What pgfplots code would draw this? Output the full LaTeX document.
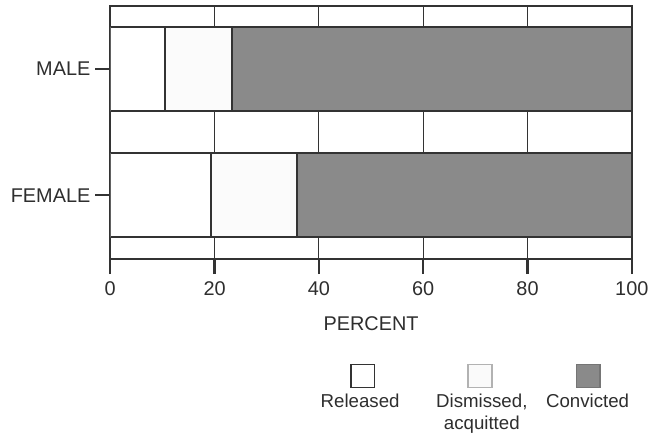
\documentclass[border=0pt]{standalone}
\usepackage{pgfplots}
\pgfplotsset{compat=1.18}
\usepackage{fontspec}
\setmainfont{Liberation Sans}
\definecolor{conv}{HTML}{8A8A8A}
\definecolor{edge}{HTML}{333333}
\definecolor{txt}{HTML}{2E2E2E}
\begin{document}
\fontsize{10}{12}\selectfont
\begin{tikzpicture}
\begin{axis}[name=ax, scale only axis, width=262.5pt, height=127.5pt,
  xbar stacked, bar width=42.5pt,
  xmin=0, xmax=100, ymin=-0.508, ymax=1.5,
  ytick={0,1}, yticklabels={FEMALE,MALE},
  xtick={0,20,40,60,80,100},
  tick align=outside, major tick length=7.5pt,
  xtick pos=bottom, ytick pos=left,
  xmajorgrids, grid style={edge, line width=0.5pt},
  axis line style={edge, line width=1.2pt},
  tick style={edge, line width=1.2pt},
  ticklabel style={font=\fontsize{10}{12}\selectfont, text=txt},
  yticklabel style={xshift=1pt},
  /pgf/number format/assume math mode=true,
  xlabel={PERCENT},
  xlabel style={at={(axis description cs:0.5,0)}, anchor=base, yshift=-36pt, text=txt, font=\fontsize{10}{12}\selectfont},
]
\addplot[fill=white, draw=edge, line width=1pt] coordinates {(10.5,1) (19.4,0)};
\addplot[fill=white!98.5!black, draw=edge, line width=1pt] coordinates {(12.9,1) (16.4,0)};
\addplot[fill=conv, draw=edge, line width=1pt] coordinates {(76.6,1) (64.2,0)};
\end{axis}
\begin{scope}[shift={(ax.south west)}]
\draw[edge, line width=0.9pt, fill=white] (121pt,-53pt) rectangle (133pt,-64.5pt);
\draw[black!30, line width=0.9pt, fill=white!98!black] (180pt,-53pt) rectangle (192pt,-64.5pt);
\draw[conv!85!black, line width=0.6pt, fill=conv] (234.5pt,-53pt) rectangle (246.5pt,-64.5pt);
\node[anchor=base, inner sep=0pt, text=txt, font=\fontsize{9.4}{11}\selectfont] at (125.75pt,-74.5pt) {Released};
\node[anchor=base, inner sep=0pt, text=txt, font=\fontsize{9.4}{11}\selectfont] at (187pt,-74.5pt) {Dismissed,};
\node[anchor=base, inner sep=0pt, text=txt, font=\fontsize{9.4}{11}\selectfont] at (187pt,-85.5pt) {acquitted};
\node[anchor=base, inner sep=0pt, text=txt, font=\fontsize{9.4}{11}\selectfont] at (240.25pt,-74.5pt) {Convicted};
\path (-55.5pt,-87.5pt) rectangle ++(327.5pt,218pt);
\end{scope}
\end{tikzpicture}
\end{document}
